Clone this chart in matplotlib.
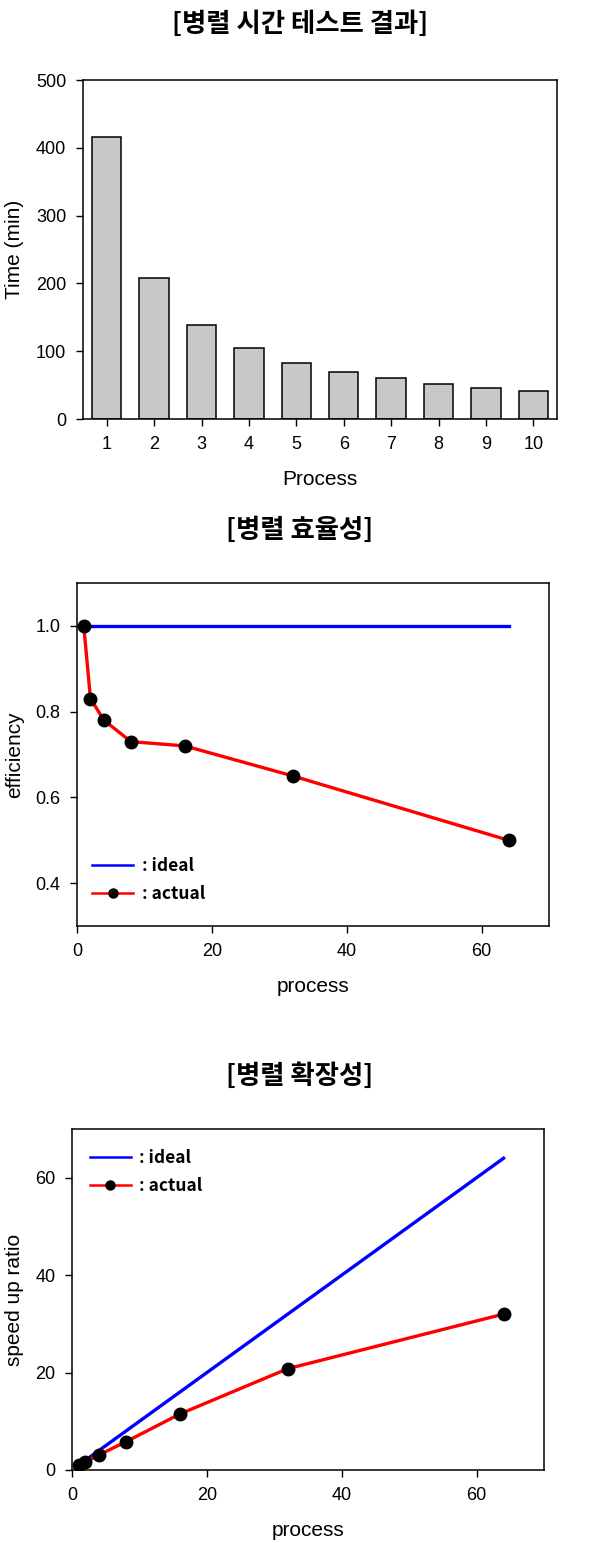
import matplotlib
matplotlib.use('Agg')
import matplotlib.pyplot as plt

plt.rcParams['font.family'] = ['Liberation Sans', 'DejaVu Sans']

# data
procs_bar = [1, 2, 3, 4, 5, 6, 7, 8, 9, 10]
times_min = [416, 208, 139, 104, 83, 69, 60, 52, 46, 42]

procs = [1, 2, 4, 8, 16, 32, 64]
eff_ideal = [1.0, 1.0, 1.0, 1.0, 1.0, 1.0, 1.0]
eff_actual = [1.0, 0.83, 0.78, 0.73, 0.72, 0.65, 0.50]
speed_ideal = [1, 2, 4, 8, 16, 32, 64]
speed_actual = [1.0, 1.6, 3.1, 5.8, 11.5, 20.8, 32.0]

W, H = 600, 1543
fig = plt.figure(figsize=(W / 100, H / 100), dpi=100)

def axes_px(l, t, r, b):
    return fig.add_axes([l / W, 1 - b / H, (r - l) / W, (b - t) / H])

kfont = ['Noto Sans CJK KR', 'DejaVu Sans']
tick_fs = 13
lab_fs = 15
title_fs = 19

def style(ax, ylab_x):
    ax.tick_params(direction='out', length=5, width=1, pad=7, labelsize=tick_fs,
                   top=False, right=False)
    for s in ax.spines.values():
        s.set_linewidth(1.1)
    ax.xaxis.set_label_coords(0.5, -0.15)
    ax.yaxis.set_label_coords(ylab_x, 0.5)

def add_legend(ax, loc, anchor):
    leg = ax.legend(loc=loc, bbox_to_anchor=anchor, frameon=False, borderpad=0,
                    borderaxespad=0, handlelength=2.35, handletextpad=0.5,
                    labelspacing=0.55,
                    prop={'family': kfont, 'weight': 'bold', 'size': 12.5})
    for h in leg.get_lines():
        h.set_linewidth(1.8)
        h.set_markersize(6.5)
    return leg

# --- panel 1: time per process count
fig.text(0.5, 1 - 24 / H, '[병렬 시간 테스트 결과]', ha='center', va='center',
         fontsize=title_fs, fontweight='bold', family=kfont)
ax1 = axes_px(83, 80, 557, 419)
ax1.bar(procs_bar, times_min, width=0.62, color='#c8c8c8', edgecolor='black', linewidth=1.1)
ax1.set_xlim(0.5, 10.5)
ax1.set_ylim(0, 500)
ax1.set_xticks(procs_bar)
ax1.set_yticks([0, 100, 200, 300, 400, 500])
ax1.set_xlabel('Process', fontsize=lab_fs)
ax1.set_ylabel('Time (min)', fontsize=lab_fs)
style(ax1, -0.125)

# --- panel 2: efficiency
fig.text(0.5, 1 - 530 / H, '[병렬 효율성]', ha='center', va='center',
         fontsize=title_fs, fontweight='bold', family=kfont)
ax2 = axes_px(77, 583, 549, 926)
ax2.plot(procs, eff_ideal, color='#0000ff', lw=2.4, label=': ideal')
ax2.plot(procs, eff_actual, color='#ff0000', lw=2.4, marker='o', ms=9,
         mfc='black', mec='black', label=': actual')
ax2.set_xlim(0, 70)
ax2.set_ylim(0.3, 1.1)
ax2.set_xticks([0, 20, 40, 60])
ax2.set_yticks([0.4, 0.6, 0.8, 1.0])
ax2.set_xlabel('process', fontsize=lab_fs)
ax2.set_ylabel('efficiency', fontsize=lab_fs)
style(ax2, -0.112)
add_legend(ax2, 'lower left', (0.032, 0.067))

# --- panel 3: speed up
fig.text(0.5, 1 - 1076 / H, '[병렬 확장성]', ha='center', va='center',
         fontsize=title_fs, fontweight='bold', family=kfont)
ax3 = axes_px(72, 1129, 544, 1470)
ax3.plot(speed_ideal, speed_ideal, color='#0000ff', lw=2.4, label=': ideal')
ax3.plot(procs, speed_actual, color='#ff0000', lw=2.4, marker='o', ms=9,
         mfc='black', mec='black', label=': actual')
ax3.set_xlim(0, 70)
ax3.set_ylim(0, 70)
ax3.set_xticks([0, 20, 40, 60])
ax3.set_yticks([0, 20, 40, 60])
ax3.set_xlabel('process', fontsize=lab_fs)
ax3.set_ylabel('speed up ratio', fontsize=lab_fs)
style(ax3, -0.102)
add_legend(ax3, 'upper left', (0.038, 0.94))

fig.savefig('out.png', dpi=100)
